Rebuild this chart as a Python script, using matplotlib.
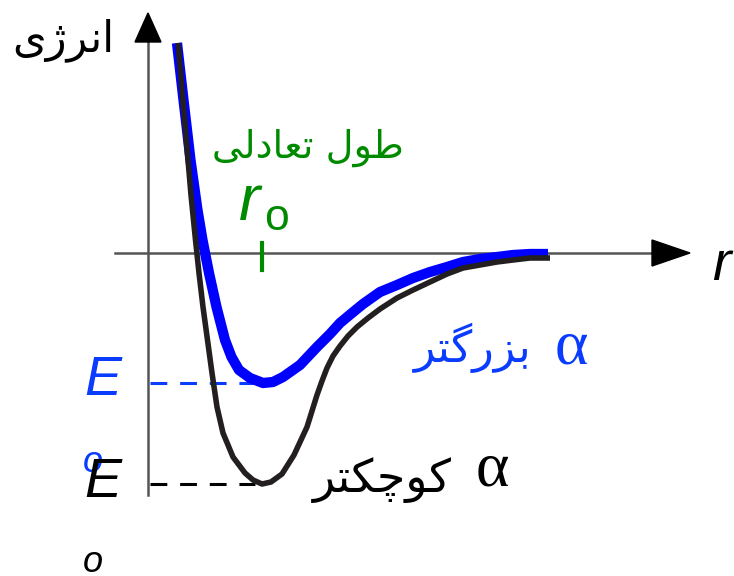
import numpy as np
import matplotlib.pyplot as plt
from matplotlib.patches import Polygon

# bond length r and potential energy E
# small alpha: deep, narrow well
r_small = [0.30, 0.345, 0.39, 0.43, 0.475, 0.51, 0.55, 0.595, 0.64, 0.69, 0.75, 0.85,
           0.97, 1.05, 1.14, 1.23, 1.34, 1.46, 1.59, 1.69, 1.74, 1.79, 1.85, 1.92,
           2.00, 2.09, 2.20, 2.32, 2.49, 2.65, 2.82, 2.99, 3.15, 3.32, 3.49, 3.65,
           3.82, 4.02]
E_small = [2.10, 1.58, 1.05, 0.58, 0.13, -0.20, -0.54, -0.87, -1.20, -1.54, -1.80, -2.04,
           -2.20, -2.27, -2.31, -2.29, -2.21, -2.02, -1.74, -1.42, -1.28, -1.15, -1.03, -0.93,
           -0.83, -0.74, -0.65, -0.56, -0.45, -0.37, -0.29, -0.21, -0.15, -0.12, -0.09, -0.07,
           -0.05, -0.05]

# large alpha: shallow, wide well
r_big = [0.29, 0.355, 0.425, 0.495, 0.545, 0.61, 0.685, 0.77, 0.835, 0.91, 1.02, 1.15,
         1.25, 1.35, 1.52, 1.69, 1.82, 1.92, 2.04, 2.15, 2.32, 2.49, 2.65, 2.82,
         2.99, 3.15, 3.32, 3.49, 3.65, 3.82, 4.00]
E_big = [2.10, 1.53, 0.93, 0.43, 0.13, -0.20, -0.54, -0.87, -1.04, -1.17, -1.25, -1.30,
         -1.29, -1.24, -1.12, -0.94, -0.81, -0.70, -0.60, -0.51, -0.39, -0.32, -0.25, -0.19,
         -0.14, -0.09, -0.06, -0.04, -0.02, -0.01, -0.01]

r0 = 1.14
E0_big = -1.30
E0_small = -2.31

# persian labels, already in shaped (presentation form) visual order
lbl_energy = '\ufbfc\ufb8a\ufeae\ufee7\ufe8d'                      # انرژی
lbl_eq = '\ufef0\ufedf\ufea9\ufe8e\ufecc\ufe97 \ufedd\ufeee\ufec3'   # طول تعادلی
lbl_big = '\ufeae\ufe98\ufb94\ufead\ufeb0\ufe91'                   # بزرگتر
lbl_small = '\ufeae\ufe98\ufb91\ufb7c\ufeee\ufb90'                 # کوچکتر

blue = '#0000ff'
blue_txt = '#0a3cff'
green = '#008a00'
axis_grey = '#555555'

fig = plt.figure(figsize=(7.34, 5.76), dpi=100)
ax = fig.add_axes([0, 0, 1, 1])
ax.set_xlim(-1.48, 5.86)
ax.set_ylim(-3.23, 2.53)
ax.axis('off')

# axes with arrow heads
ax.plot([0, 0], [-2.42, 2.11], color=axis_grey, lw=1.8, zorder=1)
ax.plot([-0.33, 5.04], [0, 0], color=axis_grey, lw=1.8, zorder=1)
ax.add_patch(Polygon([[-0.13, 2.11], [0.13, 2.11], [0, 2.40]], closed=True, color='black', zorder=2))
ax.add_patch(Polygon([[5.04, 0.13], [5.04, -0.13], [5.42, 0]], closed=True, color='black', zorder=2))

# curves
ax.plot(r_big, E_big, color=blue, lw=7.4, solid_capstyle='butt', solid_joinstyle='round', zorder=3)
ax.plot(r_small, E_small, color='#231f20', lw=4.0, solid_capstyle='butt', solid_joinstyle='round', zorder=4)

# well depth guides
ax.plot([0.02, 1.07], [E0_big, E0_big], color=blue_txt, lw=2.2, dashes=(5.5, 4.2), zorder=2)
ax.plot([0.02, 1.07], [E0_small, E0_small], color='black', lw=2.2, dashes=(5.5, 4.2), zorder=2)

# equilibrium length marker
ax.plot([r0, r0], [0.10, -0.17], color=green, lw=3, zorder=5)

ax.text(-1.36, 2.13, lbl_energy, fontsize=31, family='DejaVu Sans', ha='left', va='center')
ax.text(1.60, 1.05, lbl_eq, fontsize=27.5, family='DejaVu Sans', color=green, ha='center', va='center')
ax.text(0.91, 0.33, 'r', fontsize=46, family='Liberation Sans', style='italic', color=green,
        ha='left', va='baseline')
ax.text(1.16, 0.23, 'o', fontsize=32, family='Liberation Sans', color=green, ha='left', va='baseline')
ax.text(5.64, -0.27, 'r', fontsize=40, family='Liberation Sans', style='italic', ha='left', va='baseline')

ax.text(-0.64, -1.42, 'E', fontsize=40, family='Liberation Sans', style='italic', color=blue_txt,
        ha='left', va='baseline')
ax.text(-0.65, -2.19, 'o', fontsize=26, family='Liberation Sans', style='italic', color=blue_txt,
        ha='left', va='baseline')
ax.text(-0.64, -2.44, 'E', fontsize=40, family='Liberation Sans', style='italic', color='black',
        ha='left', va='baseline')
ax.text(-0.65, -3.19, 'o', fontsize=26, family='Liberation Sans', style='italic', color='black',
        ha='left', va='baseline')

ax.text(3.25, -0.95, lbl_big, fontsize=32, family='DejaVu Sans', color=blue_txt, ha='center', va='center')
ax.text(4.23, -0.95, '\u03b1', fontsize=46, family='Liberation Serif', color=blue_txt, ha='center', va='center')
ax.text(2.34, -2.27, lbl_small, fontsize=33, family='DejaVu Sans', color='black', ha='center', va='center')
ax.text(3.44, -2.17, '\u03b1', fontsize=46, family='Liberation Serif', color='black', ha='center', va='center')

fig.savefig('out.png', dpi=100)
